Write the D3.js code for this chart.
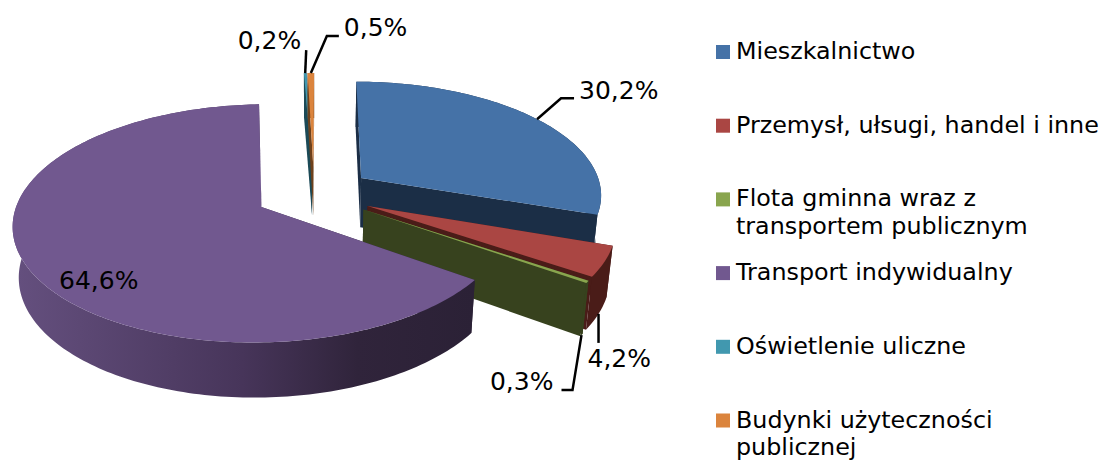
<!DOCTYPE html>
<html>
<head>
<meta charset="utf-8">
<script src="https://cdn.jsdelivr.net/npm/d3@7"></script>
<style>
  html, body { margin: 0; padding: 0; background: #fff; }
  svg { display: block; }
  text { font-family: "DejaVu Sans", Verdana, sans-serif; fill: #000; }
</style>
</head>
<body>
<div id="chart"></div>
<script>
// Chart data
const categories = [
  ["Mieszkalnictwo"],
  ["Przemysł, ułsugi, handel i inne"],
  ["Flota gminna wraz z", "transportem publicznym"],
  ["Transport indywidualny"],
  ["Oświetlenie uliczne"],
  ["Budynki użyteczności", "publicznej"]
];
const values = [30.2, 4.2, 0.3, 64.6, 0.2, 0.5];
const valueLabels = ["30,2%", "4,2%", "0,3%", "64,6%", "0,2%", "0,5%"];

// Colours
const topColors = ["#4572a7", "#aa4643", "#89a54e", "#71588f", "#4198af", "#db843d"];
const wallColors = ["#1b2e46", "#4a1c18", "#37421e", "url(#purpleWall)", "#1c4a57", "#6e411c"];

const width = 1105;
const height = 461;

// Perspective of the pie
const cx = 314, cy = 193.6;
const radiusX = 241.5, radiusY = 113.2, depth = 50.9;
const persp = 0.135, perspDepth = 0.02;
const explode = 0.244;
const firstAngle = 0.2 * Math.PI / 180;

function project(u, v, h) {
  const w = 1 - persp * v + perspDepth * h;
  return [cx + radiusX * u / w, cy + (radiusY * v + depth * h) / w];
}

const svg = d3.select("#chart")
  .append("svg")
  .attr("width", width)
  .attr("height", height);

// Side wall of the big slice is shaded from left to right
const grad = svg.append("defs").append("linearGradient")
  .attr("id", "purpleWall")
  .attr("gradientUnits", "userSpaceOnUse")
  .attr("x1", 11).attr("x2", 473).attr("y1", 0).attr("y2", 0);
grad.append("stop").attr("offset", "0%").attr("stop-color", "#65507f");
grad.append("stop").attr("offset", "50%").attr("stop-color", "#47355a");
grad.append("stop").attr("offset", "75%").attr("stop-color", "#30243b");
grad.append("stop").attr("offset", "100%").attr("stop-color", "#2b2136");

const pie = d3.pie().sort(null).value(d => d)
  .startAngle(firstAngle)
  .endAngle(firstAngle + 2 * Math.PI);

const slices = pie(values).map((d, i) => {
  const mid = (d.startAngle + d.endAngle) / 2;
  return {
    index: i,
    start: d.startAngle,
    end: d.endAngle,
    mid: mid,
    ou: explode * Math.sin(mid),
    ov: -explode * Math.cos(mid)
  };
});

function rimPoint(s, a, r, h) {
  return project(s.ou + r * Math.sin(a), s.ov - r * Math.cos(a), h);
}

function arcAngles(s) {
  const n = Math.max(2, Math.ceil((s.end - s.start) / 0.02));
  return d3.range(n + 1).map(k => s.start + (s.end - s.start) * k / n);
}

const line = d3.line().curve(d3.curveLinearClosed);

function topPath(s) {
  return line([rimPoint(s, 0, 0, 0)].concat(arcAngles(s).map(a => rimPoint(s, a, 1, 0))));
}
function outerWall(s) {
  const angles = arcAngles(s);
  return line(angles.map(a => rimPoint(s, a, 1, 0))
    .concat(angles.slice().reverse().map(a => rimPoint(s, a, 1, 1))));
}
function radialWall(s, a) {
  return line([rimPoint(s, a, 0, 0), rimPoint(s, a, 1, 0), rimPoint(s, a, 1, 1), rimPoint(s, a, 0, 1)]);
}

// Back to front
const drawOrder = [4, 5, 0, 1, 2, 3];
const pieG = svg.append("g");
drawOrder.forEach(i => {
  const s = slices[i];
  const g = pieG.append("g");
  g.append("path").attr("d", radialWall(s, s.start)).attr("fill", wallColors[i]);
  g.append("path").attr("d", radialWall(s, s.end)).attr("fill", wallColors[i]);
  g.append("path").attr("d", outerWall(s)).attr("fill", wallColors[i]);
  g.append("path").attr("d", topPath(s)).attr("fill", topColors[i]);
});

// Leader lines start on the slice and elbow away from it
const labelLayout = [
  { h: 0, elbow: [[24, -21], [37, -21]], tx: 42, ty: -20 },
  { h: 1, elbow: [[0, 29]], tx: -11, ty: 53 },
  { h: 1, elbow: [[-9, 55], [-20, 55]], tx: -28, ty: 55 },
  null,
  { h: 0, elbow: [[1, -23]], tx: -4, ty: -24 },
  { h: 0, elbow: [[16, -37], [28, -37]], tx: 33, ty: -37 }
];
const labelAnchors = ["start", "start", "end", "start", "end", "start"];

const labelG = svg.append("g");
slices.forEach(s => {
  const lay = labelLayout[s.index];
  if (!lay) {
    labelG.append("text")
      .attr("x", 59).attr("y", 289)
      .style("font-size", "25px")
      .text(valueLabels[s.index]);
    return;
  }
  const a = rimPoint(s, s.mid, 1, lay.h);
  const pts = [a].concat(lay.elbow.map(e => [a[0] + e[0], a[1] + e[1]]));
  labelG.append("path")
    .attr("d", d3.line()(pts))
    .attr("fill", "none")
    .attr("stroke", "#000")
    .attr("stroke-width", 2.5);
  labelG.append("text")
    .attr("x", a[0] + lay.tx)
    .attr("y", a[1] + lay.ty)
    .attr("text-anchor", labelAnchors[s.index])
    .style("font-size", "25px")
    .text(valueLabels[s.index]);
});

// Legend
const legendY = d3.scaleLinear().domain([0, 5]).range([45, 413.5]);
const legend = svg.append("g").selectAll("g")
  .data(categories)
  .enter()
  .append("g")
  .attr("transform", (d, i) => `translate(716,${legendY(i)})`);

legend.append("rect")
  .attr("width", 14)
  .attr("height", 14)
  .attr("fill", (d, i) => topColors[i]);

legend.append("text")
  .style("font-size", "23.8px")
  .selectAll("tspan")
  .data(d => d)
  .enter()
  .append("tspan")
  .attr("x", 20)
  .attr("y", (d, i) => 14 + i * 27.8)
  .text(d => d);
</script>
</body>
</html>
